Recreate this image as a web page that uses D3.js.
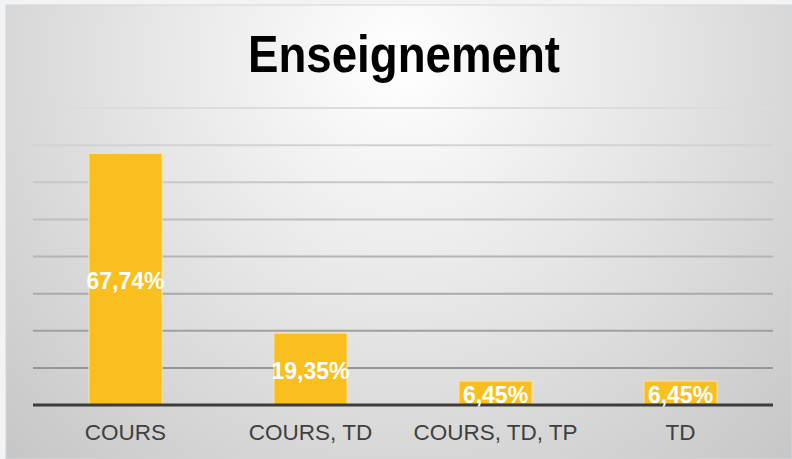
<!DOCTYPE html>
<html>
<head>
<meta charset="utf-8">
<script src="https://cdn.jsdelivr.net/npm/d3@7"></script>
<style>
  body { margin: 0; background: #f1f3f5; }
  svg { display: block; }
</style>
</head>
<body>
<div id="chart"></div>
<script>
// values
var categories = ["COURS", "COURS, TD", "COURS, TD, TP", "TD"];
var percents = [67.74, 19.35, 6.45, 6.45];
var labels = ["67,74%", "19,35%", "6,45%", "6,45%"];
var gridTicks = [10, 20, 30, 40, 50, 60, 70, 80];

var W = 792, H = 459;
var svg = d3.select("#chart").append("svg").attr("width", W).attr("height", H);
var defs = svg.append("defs");

var bg = defs.append("radialGradient").attr("id", "bg")
    .attr("gradientUnits", "userSpaceOnUse")
    .attr("cx", 400).attr("cy", 60).attr("r", 560);
bg.append("stop").attr("offset", "0").attr("stop-color", "#ffffff");
bg.append("stop").attr("offset", "0.45").attr("stop-color", "#e6e6e6");
bg.append("stop").attr("offset", "1").attr("stop-color", "#c6c6c6");

var gl = defs.append("linearGradient").attr("id", "grid")
    .attr("gradientUnits", "userSpaceOnUse")
    .attr("x1", 0).attr("y1", 100).attr("x2", 0).attr("y2", 405);
gl.append("stop").attr("offset", "0").attr("stop-color", "#dedede");
gl.append("stop").attr("offset", "1").attr("stop-color", "#8c8c8c");

// frame
svg.append("rect").attr("x", 6).attr("y", 5).attr("width", W - 6).attr("height", H - 5)
    .attr("fill", "url(#bg)").attr("stroke", "#d4d6d8").attr("stroke-width", 1);

var x = d3.scaleBand().domain(categories).range([33, 773]).padding(0);
var y = d3.scaleLinear().domain([0, 80]).range([405, 108]);
var barW = x.bandwidth() * 0.395;

// gridlines
svg.append("g").selectAll("line").data(gridTicks).enter().append("line")
    .attr("x1", 33).attr("x2", 773)
    .attr("y1", d => y(d)).attr("y2", d => y(d))
    .attr("stroke", "url(#grid)").attr("stroke-width", 2);

// bars
svg.append("g").selectAll("rect").data(percents).enter().append("rect")
    .attr("x", (d, i) => x(categories[i]) + x.bandwidth() / 2 - barW / 2)
    .attr("y", d => y(d))
    .attr("width", barW)
    .attr("height", d => y(0) - y(d))
    .attr("fill", "#f9bf1f")
    .attr("stroke", "#fbe3a0").attr("stroke-width", 1);

// baseline
svg.append("line").attr("x1", 33).attr("x2", 773)
    .attr("y1", y(0)).attr("y2", y(0))
    .attr("stroke", "#3c3c3c").attr("stroke-width", 3);

// data labels
svg.append("g").selectAll("text").data(percents).enter().append("text")
    .attr("x", (d, i) => x(categories[i]) + x.bandwidth() / 2)
    .attr("y", d => (y(d) + y(0)) / 2 + 2)
    .attr("text-anchor", "middle")
    .attr("dominant-baseline", "central")
    .attr("font-family", "Liberation Sans, Arial, sans-serif")
    .attr("font-weight", "bold")
    .attr("font-size", 23)
    .attr("fill", "#ffffff")
    .text((d, i) => labels[i]);

// category labels
svg.append("g").selectAll("text").data(categories).enter().append("text")
    .attr("x", d => x(d) + x.bandwidth() / 2)
    .attr("y", 440)
    .attr("text-anchor", "middle")
    .attr("font-family", "Liberation Sans, Arial, sans-serif")
    .attr("font-size", 22.5)
    .attr("fill", "#404040")
    .text(d => d);

// title
svg.append("text")
    .attr("x", 404).attr("y", 72)
    .attr("text-anchor", "middle")
    .attr("font-family", "Liberation Sans, Arial, sans-serif")
    .attr("font-weight", "bold")
    .attr("font-size", 52)
    .attr("textLength", 312)
    .attr("lengthAdjust", "spacingAndGlyphs")
    .attr("fill", "#000000")
    .text("Enseignement");
</script>
</body>
</html>
